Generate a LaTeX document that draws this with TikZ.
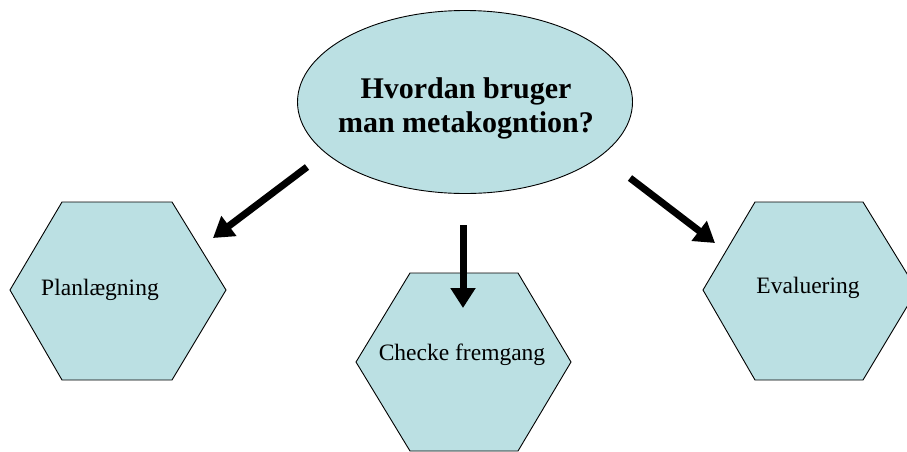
\documentclass[tikz,border=0pt]{standalone}
\usepackage{fontspec}
\setmainfont{Liberation Serif}
\usetikzlibrary{arrows.meta,shapes.geometric}
\definecolor{shapefill}{HTML}{BBE0E3}
\tikzset{
  shapeline/.style={draw=black, line width=0.9pt, fill=shapefill, line join=miter},
  hexlabel/.style={font=\fontsize{23.5}{28}\selectfont, inner sep=0pt, anchor=center},
  bigarrow/.style={line width=7pt, -{Triangle[width=24pt,length=20pt]}},
}
\begin{document}
\begin{tikzpicture}[x=1pt,y=-1pt]
\useasboundingbox (0,0) rectangle (907,451);
\clip (0,0) rectangle (907,451);
% ellipse
\node[shapeline, ellipse, minimum width=335pt, minimum height=183pt, inner sep=0pt] (q) at (465,102) {};
\node[align=center, inner sep=0pt, font=\bfseries\fontsize{30}{34}\selectfont] (qt) at (466,108)
  {Hvordan bruger\\man metakogntion?};
% hexagons
\draw[shapeline] (62,202) -- (172,202) -- (226,290) -- (172,380) -- (62,380) -- (10,290) -- cycle;
\draw[shapeline] (410,273) -- (518,273) -- (571,362) -- (518,451) -- (410,451) -- (356,362) -- cycle;
\draw[shapeline] (755,202) -- (863,202) -- (917,290) -- (863,380) -- (755,380) -- (703,290) -- cycle;
\node[hexlabel] (plan) at (100,290) {Planlægning};
\node[hexlabel] (check) at (462,355) {Checke fremgang};
\node[hexlabel] (eval) at (808,288) {Evaluering};
% arrow ends
\coordinate (a1s) at (307,167);
\coordinate (a1e) at (213,238);
\coordinate (a2s) at (463,225);
\coordinate (a2e) at (463,308);
\coordinate (a3s) at (630,178);
\coordinate (a3e) at (715,243);
\draw[bigarrow] (a1s) -- (a1e);
\draw[bigarrow] (a2s) -- (a2e);
\draw[bigarrow] (a3s) -- (a3e);
\end{tikzpicture}
\end{document}
